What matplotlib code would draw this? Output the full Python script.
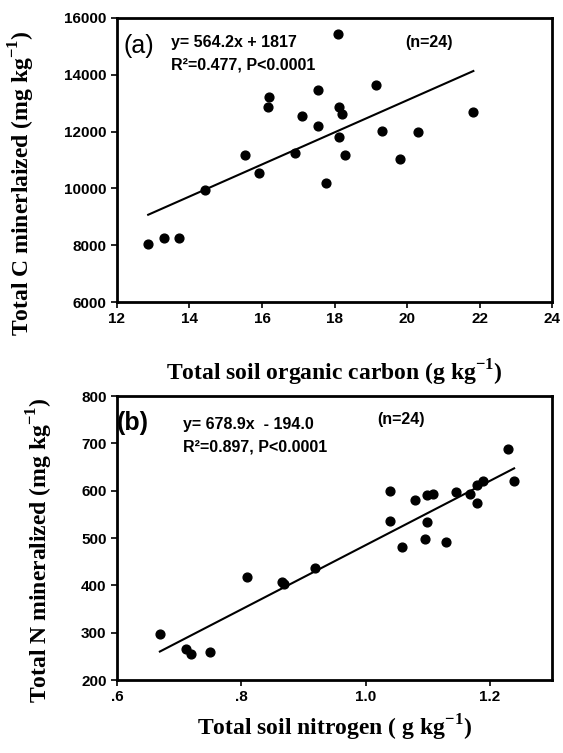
import numpy as np
import matplotlib
matplotlib.use("Agg")
import matplotlib.pyplot as plt

# panel (a): soil organic carbon vs C mineralized
soc = [12.86, 13.31, 13.71, 14.42, 15.54, 15.91, 16.16, 16.19, 16.90, 17.09,
       17.54, 17.55, 17.76, 18.09, 18.12, 18.20, 18.13, 18.28, 19.15, 19.30,
       19.82, 20.30, 21.83]
c_min = [8047, 8247, 8259, 9953, 11176, 10529, 12859, 13235, 11235, 12565,
         12200, 13482, 10188, 15447, 12871, 12624, 11800, 11176, 13624, 12035,
         11047, 11988, 12706]

# panel (b): total soil nitrogen vs N mineralized
tn = [0.669, 0.711, 0.719, 0.749, 0.809, 0.865, 0.868, 0.919, 1.039, 1.039,
      1.059, 1.079, 1.095, 1.099, 1.099, 1.109, 1.129, 1.146, 1.168, 1.179,
      1.179, 1.189, 1.229, 1.239]
n_min = [298, 265, 256, 260, 418, 408, 402, 437, 599, 535,
         480, 580, 498, 590, 534, 593, 492, 597, 592, 611,
         574, 620, 687, 621]

fit_a = (564.2, 1817)
fit_b = (678.9, -194.0)

sans = ['Liberation Sans', 'DejaVu Sans']
serif = ['Liberation Serif', 'DejaVu Serif']

plt.rcParams['mathtext.fontset'] = 'custom'
plt.rcParams['mathtext.rm'] = 'Liberation Serif'
plt.rcParams['mathtext.bf'] = 'Liberation Serif:bold'

fig = plt.figure(figsize=(5.63, 7.53), dpi=100)
ax1 = fig.add_axes([0.2078, 0.5989, 0.7727, 0.3772])
ax2 = fig.add_axes([0.2078, 0.0969, 0.7727, 0.3772])

sup = '$^{\\mathbf{-1}}$'


def style(ax):
    for sp in ax.spines.values():
        sp.set_linewidth(2)
    ax.tick_params(direction='out', length=4, width=1.2, top=False, right=False,
                   labelsize=11)
    for lab in ax.get_xticklabels() + ax.get_yticklabels():
        lab.set_fontfamily(sans)
        lab.set_fontweight('bold')


# (a)
ax1.scatter(soc, c_min, s=40, color='black', zorder=3)
xa = np.array([min(soc), max(soc)])
ax1.plot(xa, fit_a[0] * xa + fit_a[1], color='black', lw=1.5)
ax1.set_xlim(12, 24)
ax1.set_ylim(6000, 16000)
ax1.set_xticks(np.arange(12, 25, 2))
ax1.set_yticks(np.arange(6000, 16001, 2000))
style(ax1)
ax1.set_xlabel('Total soil organic carbon (g kg' + sup + ')', family=serif,
               fontweight='bold', fontsize=17)
ax1.set_ylabel('Total C minerlaized (mg kg' + sup + ')', family=serif,
               fontweight='bold', fontsize=17)
ax1.xaxis.set_label_coords(0.5, -0.195)
ax1.yaxis.set_label_coords(-0.184, 0.42)
ax1.text(0.014, 0.901, '(a)', transform=ax1.transAxes, family=sans,
         fontsize=18, va='center', ha='left')
ax1.text(0.123, 0.913, 'y= 564.2x + 1817', transform=ax1.transAxes,
         family=sans, fontweight='bold', fontsize=11.5, va='center')
ax1.text(0.123, 0.835, 'R\u00b2=0.477, P<0.0001', transform=ax1.transAxes,
         family=sans, fontweight='bold', fontsize=11.5, va='center')
ax1.text(0.662, 0.913, '(n=24)', transform=ax1.transAxes, family=sans,
         fontweight='bold', fontsize=11.5, va='center')

# (b)
ax2.scatter(tn, n_min, s=40, color='black', zorder=3)
xb = np.array([min(tn), max(tn)])
ax2.plot(xb, fit_b[0] * xb + fit_b[1], color='black', lw=1.5)
ax2.set_xlim(0.6, 1.3)
ax2.set_ylim(200, 800)
ax2.set_xticks([0.6, 0.8, 1.0, 1.2])
ax2.set_xticklabels(['.6', '.8', '1.0', '1.2'])
ax2.set_yticks(np.arange(200, 801, 100))
style(ax2)
ax2.set_xlabel('Total soil nitrogen ( g kg' + sup + ')', family=serif,
               fontweight='bold', fontsize=17)
ax2.set_ylabel('Total N mineralized (mg kg' + sup + ')', family=serif,
               fontweight='bold', fontsize=17)
ax2.xaxis.set_label_coords(0.5, -0.115)
ax2.yaxis.set_label_coords(-0.1425, 0.458)
ax2.text(0.0, 0.905, '(b)', transform=ax2.transAxes, family=sans,
         fontsize=18, fontweight='bold', va='center', ha='left')
ax2.text(0.151, 0.901, 'y= 678.9x  - 194.0', transform=ax2.transAxes,
         family=sans, fontweight='bold', fontsize=11.5, va='center')
ax2.text(0.151, 0.82, 'R\u00b2=0.897, P<0.0001', transform=ax2.transAxes,
         family=sans, fontweight='bold', fontsize=11.5, va='center')
ax2.text(0.598, 0.919, '(n=24)', transform=ax2.transAxes, family=sans,
         fontweight='bold', fontsize=11.5, va='center')

fig.savefig('out.png', dpi=100)
